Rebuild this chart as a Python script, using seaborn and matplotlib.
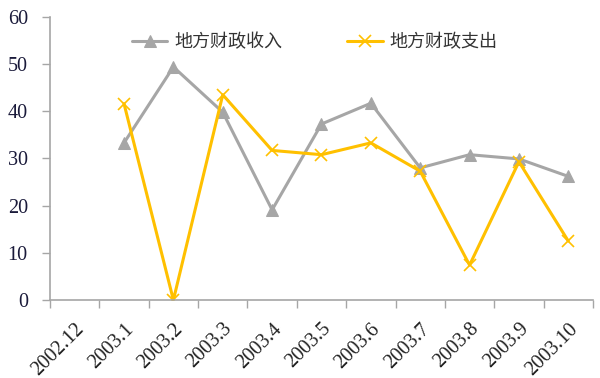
import numpy as np
import pandas as pd
import matplotlib
matplotlib.use('Agg')
import matplotlib.pyplot as plt
import seaborn as sns

months = ['2002.12', '2003.1', '2003.2', '2003.3', '2003.4', '2003.5',
          '2003.6', '2003.7', '2003.8', '2003.9', '2003.10']
revenue = [np.nan, 33.3, 49.4, 39.8, 19.1, 37.3, 41.7, 28.0, 30.8, 29.9, 26.2]
spending = [np.nan, 41.6, 0.0, 43.5, 31.7, 30.8, 33.3, 27.3, 7.4, 29.3, 12.5]
series_names = ['地方财政收入', '地方财政支出']

sns.set_style('white')
plt.rcParams['font.family'] = ['Noto Sans CJK SC', 'DejaVu Sans']

df = pd.DataFrame({'pos': range(len(months)), 'revenue': revenue, 'spending': spending})

fig = plt.figure(figsize=(6, 3.78), dpi=100)
ax = fig.add_axes([0.0833, 0.2063, 0.905, 0.749])
sns.lineplot(data=df, x='pos', y='revenue', color='#A6A6A6', marker='^', markersize=8,
             markeredgecolor='#A6A6A6', linewidth=2.2, label=series_names[0], ax=ax)
sns.lineplot(data=df, x='pos', y='spending', color='#FFC000', marker='x', markersize=9,
             markeredgecolor='#FFC000', markeredgewidth=1.2, linewidth=2.2,
             label=series_names[1], ax=ax)

ax.set_xlim(-0.5, len(months) - 0.5)
ax.set_ylim(0, 60)
ax.set_yticks(range(0, 61, 10))
ax.set_xticks(np.arange(-0.5, len(months), 1.0))
ax.set_xticklabels([])
ax.set_xticks(range(len(months)), minor=True)
ax.set_xticklabels(months, minor=True, rotation=45, ha='right', rotation_mode='anchor',
                   family='Liberation Serif', fontsize=14.5, color='#222222')
ax.tick_params(axis='x', which='major', length=6, width=1, color='#A6A6A6', direction='out', bottom=True)
ax.tick_params(axis='x', which='minor', length=0, pad=14)
ax.tick_params(axis='y', length=6, width=1, color='#A6A6A6', direction='out', left=True, pad=10)
for lab in ax.get_yticklabels():
    lab.set_family('Liberation Serif')
    lab.set_fontsize(14.5)
    lab.set_color('#1a1a3a')

for side in ['top', 'right']:
    ax.spines[side].set_visible(False)
for side in ['left', 'bottom']:
    ax.spines[side].set_color('#A6A6A6')
    ax.spines[side].set_linewidth(1.2)

ax.set_xlabel('')
ax.set_ylabel('')
leg = ax.legend(loc='upper center', bbox_to_anchor=(0.488, 1.0), ncol=2, frameon=False,
                fontsize=13, columnspacing=3.6, handlelength=1.95, handletextpad=0.4)
for t in leg.get_texts():
    t.set_color('#333333')

fig.savefig('out.png', dpi=100)
